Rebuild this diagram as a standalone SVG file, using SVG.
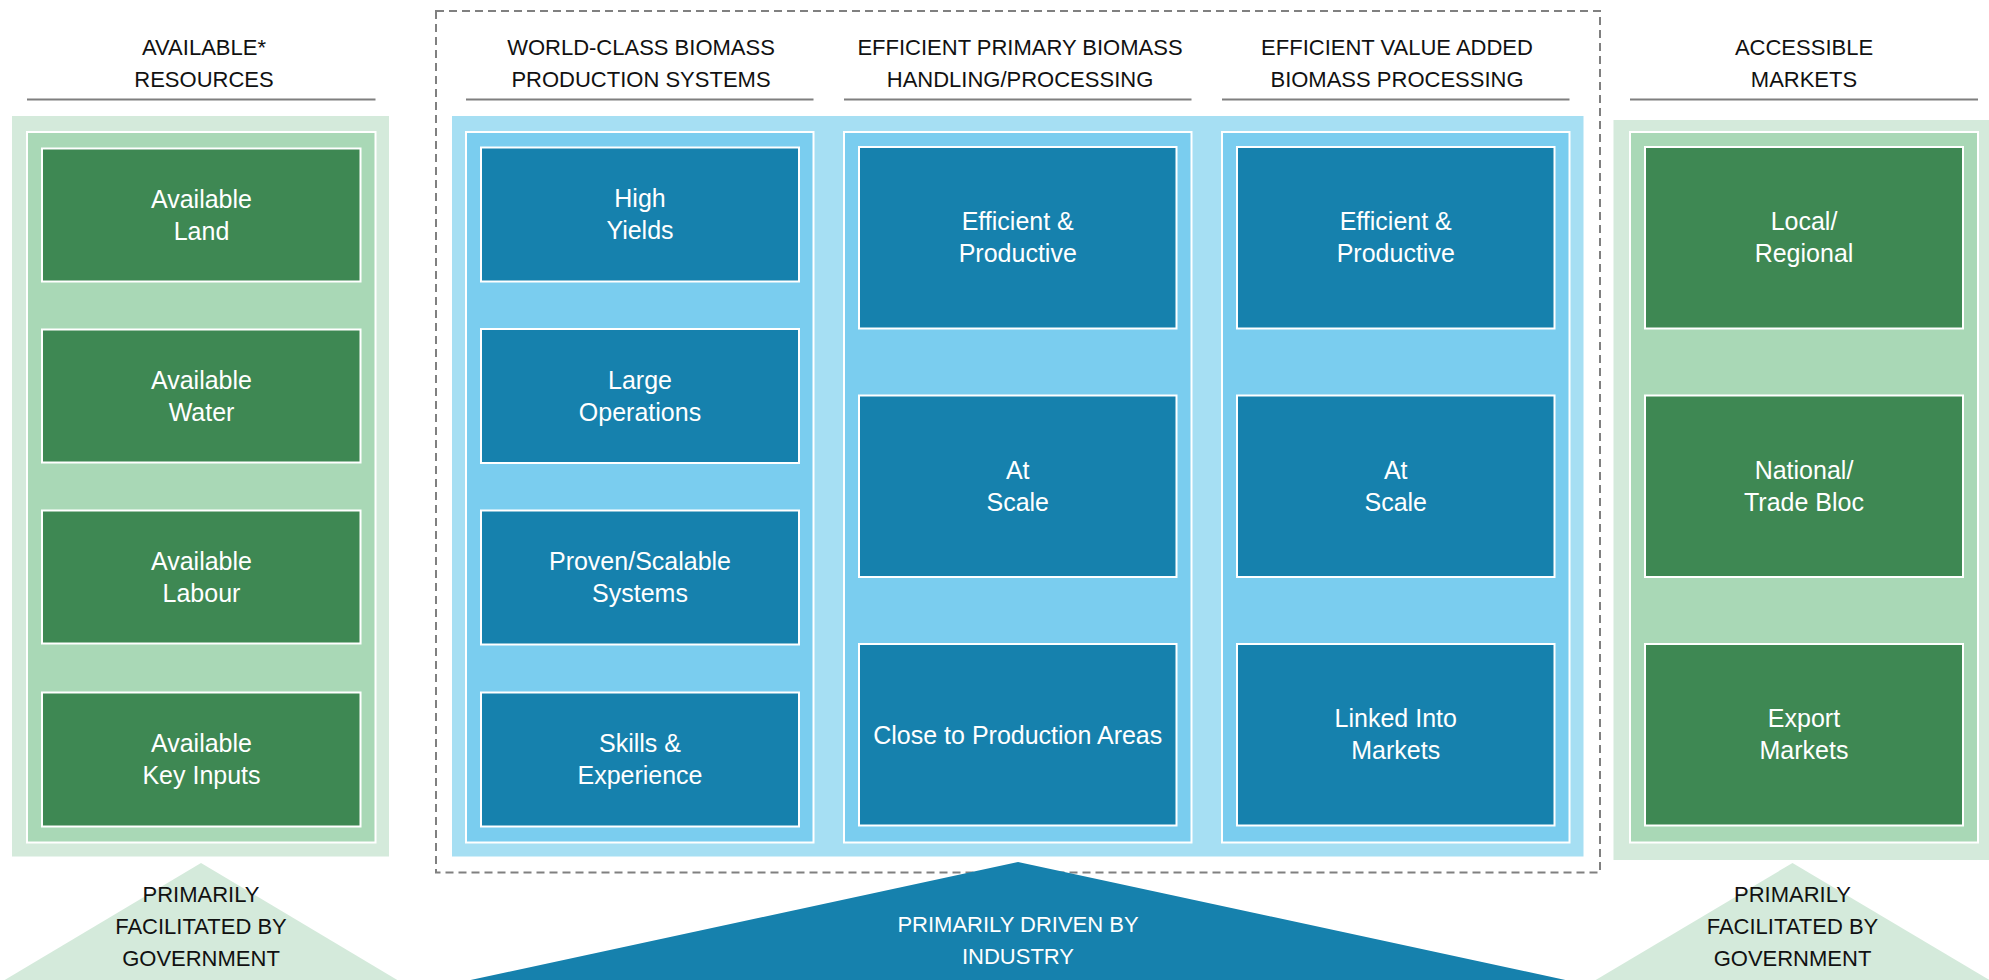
<svg xmlns="http://www.w3.org/2000/svg" width="1989" height="980" viewBox="0 0 1989 980">
<style>
.og{fill:#d4eadb}
.ig{fill:#a9d8b6;stroke:#fff;stroke-width:2}
.ng{fill:#3e8853;stroke:#fff;stroke-width:2}
.ob{fill:#a6dff3}
.ib{fill:#7acdef;stroke:#fff;stroke-width:2}
.nb{fill:#1681ad;stroke:#fff;stroke-width:2}
.hd{font-family:'Liberation Sans',Arial,sans-serif;font-size:22px;fill:#111;text-anchor:middle}
.nt{font-family:'Liberation Sans',Arial,sans-serif;font-size:25px;fill:#fff;text-anchor:middle}
.tw{font-family:'Liberation Sans',Arial,sans-serif;font-size:22px;fill:#fff;text-anchor:middle}
.ul{stroke:#7f7f7f;stroke-width:2}
.dash{fill:none;stroke:#808080;stroke-width:2;stroke-dasharray:8 5}
</style>
<rect width="1989" height="980" fill="#fff"/>

<!-- dashed industry box -->
<rect class="dash" x="436" y="11" width="1164" height="861.5"/>

<!-- headers -->
<g id="headers">
  <text class="hd" x="204" y="55">AVAILABLE*</text>
  <text class="hd" x="204" y="87">RESOURCES</text>
  <line class="ul" x1="27" y1="99.5" x2="375.5" y2="99.5"/>
  <text class="hd" x="641" y="55">WORLD-CLASS BIOMASS</text>
  <text class="hd" x="641" y="87">PRODUCTION SYSTEMS</text>
  <line class="ul" x1="466" y1="99.5" x2="813.5" y2="99.5"/>
  <text class="hd" x="1020" y="55">EFFICIENT PRIMARY BIOMASS</text>
  <text class="hd" x="1020" y="87">HANDLING/PROCESSING</text>
  <line class="ul" x1="844" y1="99.5" x2="1191.5" y2="99.5"/>
  <text class="hd" x="1397" y="55">EFFICIENT VALUE ADDED</text>
  <text class="hd" x="1397" y="87">BIOMASS PROCESSING</text>
  <line class="ul" x1="1222" y1="99.5" x2="1569.5" y2="99.5"/>
  <text class="hd" x="1804" y="55">ACCESSIBLE</text>
  <text class="hd" x="1804" y="87">MARKETS</text>
  <line class="ul" x1="1630" y1="99.5" x2="1978" y2="99.5"/>
</g>

<!-- left green panel -->
<g id="resources">
  <rect class="og" x="12" y="116" width="377" height="740.5"/>
  <rect class="ig" x="27" y="132" width="348.5" height="710.5"/>
  <g id="n-land"><rect class="ng" x="42" y="148.5" width="318.5" height="133"/>
    <text class="nt" x="201.5" y="207.5">Available</text><text class="nt" x="201.5" y="239.5">Land</text></g>
  <g id="n-water"><rect class="ng" x="42" y="329.5" width="318.5" height="133"/>
    <text class="nt" x="201.5" y="388.5">Available</text><text class="nt" x="201.5" y="420.5">Water</text></g>
  <g id="n-labour"><rect class="ng" x="42" y="510.5" width="318.5" height="133"/>
    <text class="nt" x="201.5" y="569.5">Available</text><text class="nt" x="201.5" y="601.5">Labour</text></g>
  <g id="n-inputs"><rect class="ng" x="42" y="692.5" width="318.5" height="134"/>
    <text class="nt" x="201.5" y="752">Available</text><text class="nt" x="201.5" y="784">Key Inputs</text></g>
</g>

<!-- blue industry area -->
<g id="industry">
  <rect class="ob" x="452" y="116" width="1131.5" height="740.5"/>
  <rect class="ib" x="466" y="132" width="347.5" height="710.5"/>
  <rect class="ib" x="844" y="132" width="347.5" height="710.5"/>
  <rect class="ib" x="1222" y="132" width="347.5" height="710.5"/>
</g>

<g id="production">
  <g id="n-yields"><rect class="nb" x="481" y="147.5" width="318" height="134"/>
    <text class="nt" x="640" y="207">High</text><text class="nt" x="640" y="239">Yields</text></g>
  <g id="n-operations"><rect class="nb" x="481" y="329" width="318" height="134"/>
    <text class="nt" x="640" y="388.5">Large</text><text class="nt" x="640" y="420.5">Operations</text></g>
  <g id="n-proven"><rect class="nb" x="481" y="510.5" width="318" height="134"/>
    <text class="nt" x="640" y="570">Proven/Scalable</text><text class="nt" x="640" y="602">Systems</text></g>
  <g id="n-skills"><rect class="nb" x="481" y="692.5" width="318" height="134"/>
    <text class="nt" x="640" y="752">Skills &amp;</text><text class="nt" x="640" y="784">Experience</text></g>
</g>

<g id="primary">
  <g id="n-p-eff"><rect class="nb" x="859" y="147" width="317.5" height="181.5"/>
    <text class="nt" x="1017.75" y="230">Efficient &amp;</text><text class="nt" x="1017.75" y="262">Productive</text></g>
  <g id="n-p-scale"><rect class="nb" x="859" y="395.5" width="317.5" height="181.5"/>
    <text class="nt" x="1017.75" y="478.5">At</text><text class="nt" x="1017.75" y="510.5">Scale</text></g>
  <g id="n-p-close"><rect class="nb" x="859" y="644" width="317.5" height="181.5"/>
    <text class="nt" x="1017.75" y="743.5">Close to Production Areas</text></g>
</g>

<g id="valueadded">
  <g id="n-v-eff"><rect class="nb" x="1237" y="147" width="317.5" height="181.5"/>
    <text class="nt" x="1395.75" y="230">Efficient &amp;</text><text class="nt" x="1395.75" y="262">Productive</text></g>
  <g id="n-v-scale"><rect class="nb" x="1237" y="395.5" width="317.5" height="181.5"/>
    <text class="nt" x="1395.75" y="478.5">At</text><text class="nt" x="1395.75" y="510.5">Scale</text></g>
  <g id="n-v-linked"><rect class="nb" x="1237" y="644" width="317.5" height="181.5"/>
    <text class="nt" x="1395.75" y="727">Linked Into</text><text class="nt" x="1395.75" y="759">Markets</text></g>
</g>

<!-- right green panel -->
<g id="markets">
  <rect class="og" x="1613.5" y="120" width="380" height="740"/>
  <rect class="ig" x="1630" y="132" width="348" height="710.5"/>
  <g id="n-local"><rect class="ng" x="1645" y="147" width="318" height="181.5"/>
    <text class="nt" x="1804" y="230">Local/</text><text class="nt" x="1804" y="262">Regional</text></g>
  <g id="n-national"><rect class="ng" x="1645" y="395.5" width="318" height="181.5"/>
    <text class="nt" x="1804" y="478.5">National/</text><text class="nt" x="1804" y="510.5">Trade Bloc</text></g>
  <g id="n-export"><rect class="ng" x="1645" y="644" width="318" height="181.5"/>
    <text class="nt" x="1804" y="727">Export</text><text class="nt" x="1804" y="759">Markets</text></g>
</g>

<!-- bottom triangles -->
<g id="gov-left">
  <polygon class="og" points="201,863 3,981 399,981"/>
  <text class="hd" x="201" y="902">PRIMARILY</text>
  <text class="hd" x="201" y="934">FACILITATED BY</text>
  <text class="hd" x="201" y="966">GOVERNMENT</text>
</g>
<g id="industry-driven">
  <polygon fill="#1681ad" points="1018,862 466,981 1570,981"/>
  <text class="tw" x="1018" y="932">PRIMARILY DRIVEN BY</text>
  <text class="tw" x="1018" y="963.5">INDUSTRY</text>
</g>
<g id="gov-right">
  <polygon class="og" points="1792.5,863 1594,981 1991,981"/>
  <text class="hd" x="1792.5" y="902">PRIMARILY</text>
  <text class="hd" x="1792.5" y="934">FACILITATED BY</text>
  <text class="hd" x="1792.5" y="966">GOVERNMENT</text>
</g>
</svg>
